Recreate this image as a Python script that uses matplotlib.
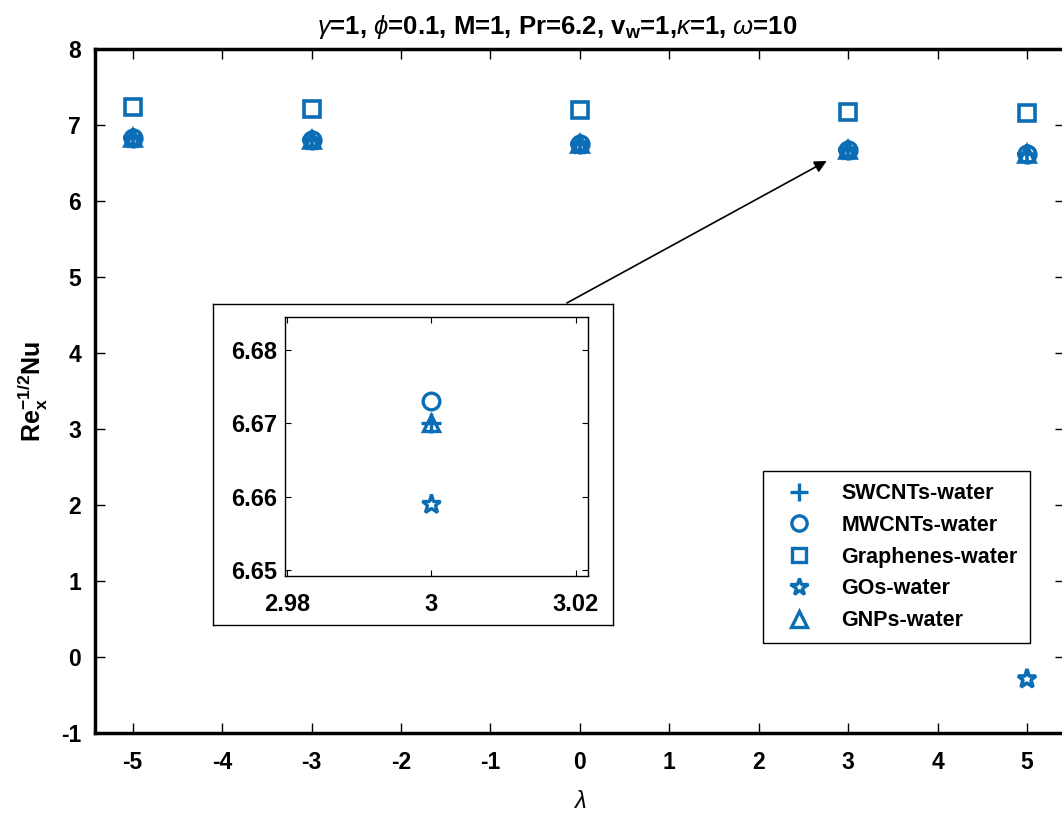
import matplotlib.pyplot as plt
from matplotlib.lines import Line2D

plt.rcParams['font.family'] = ['Liberation Sans', 'DejaVu Sans']
plt.rcParams['mathtext.fontset'] = 'custom'
plt.rcParams['mathtext.rm'] = 'Liberation Sans'
plt.rcParams['mathtext.it'] = 'Liberation Sans:italic'
plt.rcParams['mathtext.bf'] = 'Liberation Sans:bold'
plt.rcParams['axes.unicode_minus'] = False

# %% data
lam = [-5, -3, 0, 3, 5]
swcnt = [6.83, 6.80, 6.75, 6.670, 6.62]
mwcnt = [6.835, 6.805, 6.755, 6.673, 6.625]
graphene = [7.24, 7.22, 7.20, 7.18, 7.16]
go = [6.82, 6.79, 6.74, 6.659, -0.29]
gnp = [6.83, 6.80, 6.75, 6.670, 6.62]

names = ['SWCNTs-water', 'MWCNTs-water', 'Graphenes-water', 'GOs-water', 'GNPs-water']
markers = ['+', 'o', 's', '*', '^']
series = [swcnt, mwcnt, graphene, go, gnp]

x_ticks = [-5, -4, -3, -2, -1, 0, 1, 2, 3, 4, 5]
y_ticks = [-1, 0, 1, 2, 3, 4, 5, 6, 7, 8]

col = '#0b6db5'
ms = {'+': 14, 'o': 12, 's': 11, '*': 14, '^': 12}

# %% main plot
fig = plt.figure(figsize=(10.62, 8.14), dpi=100)
ax = fig.add_axes([0.0895, 0.0995, 0.913, 0.840])

for y, m in zip(series, markers):
    ax.plot(lam, y, linestyle='none', marker=m, markersize=ms[m],
            markerfacecolor='none', markeredgecolor=col, markeredgewidth=2.6)

ax.set_xlim(-5.42, 5.42)
ax.set_ylim(-1, 8)
ax.set_xticks(x_ticks)
ax.set_yticks(y_ticks)
ax.tick_params(direction='in', length=7, width=1, top=True, right=True,
               labelsize=16.5, pad=10)
ax.tick_params(axis='x', pad=13)
for lbl in ax.get_xticklabels() + ax.get_yticklabels():
    lbl.set_fontweight('bold')
for s in ax.spines.values():
    s.set_linewidth(2.5)

ax.set_xlabel(r'$\it{\lambda}$', fontsize=17, labelpad=12)
ax.set_ylabel(r'$\mathbf{Re_x^{-1/2}Nu}$', fontsize=18, labelpad=8)

# タイトル
fig.text(557 / 1062, 1 - 27 / 814,
         r'$\it{\gamma}$=1, $\it{\phi}$=0.1, M=1, Pr=6.2, v$_\mathbf{w}$=1,$\it{\kappa}$=1, $\it{\omega}$=10',
         fontsize=18.5, fontweight='bold', ha='center', va='center')

# 矢印
ax.annotate('', xy=(2.76, 6.53), xytext=(-0.145, 4.66),
            arrowprops=dict(arrowstyle='-|>', color='black', lw=1.2,
                            mutation_scale=18, shrinkA=0, shrinkB=0))

# 凡例
handles = [Line2D([], [], linestyle='none', marker=m, markersize=ms[m] - 1,
                  markerfacecolor='none', markeredgecolor=col, markeredgewidth=2.4)
           for m in markers]
leg = ax.legend(handles, names, loc='lower left', bbox_to_anchor=(0.7185, 0.210),
                bbox_transform=fig.transFigure, borderaxespad=0, fancybox=False,
                edgecolor='black', framealpha=1, prop={'weight': 'bold', 'size': 15.5},
                handletextpad=0.9, labelspacing=0.5, borderpad=0.55, handlelength=2.2)
leg.get_frame().set_linewidth(1)

# %% inset
box = fig.add_axes([213 / 1062, 1 - 625 / 814, 400 / 1062, 321 / 814])
box.set_xticks([])
box.set_yticks([])
for s in box.spines.values():
    s.set_linewidth(1)

axi = fig.add_axes([285 / 1062, 1 - 576 / 814, 303 / 1062, 259 / 814])
for y, m in zip(series, markers):
    axi.plot(lam, y, linestyle='none', marker=m, markersize=ms[m],
             markerfacecolor='none', markeredgecolor=col, markeredgewidth=2.4)
axi.set_xlim(2.9797, 3.0217)
axi.set_ylim(6.6492, 6.6845)
axi.set_xticks([2.98, 3, 3.02])
axi.set_xticklabels(['2.98', '3', '3.02'])
axi.set_yticks([6.65, 6.66, 6.67, 6.68])
axi.tick_params(direction='in', length=4, width=0.8, top=True, right=True,
                labelsize=17, pad=6)
axi.tick_params(axis='x', pad=12)
for lbl in axi.get_xticklabels() + axi.get_yticklabels():
    lbl.set_fontweight('bold')
for s in axi.spines.values():
    s.set_linewidth(1)

fig.savefig('out.png', dpi=100)
